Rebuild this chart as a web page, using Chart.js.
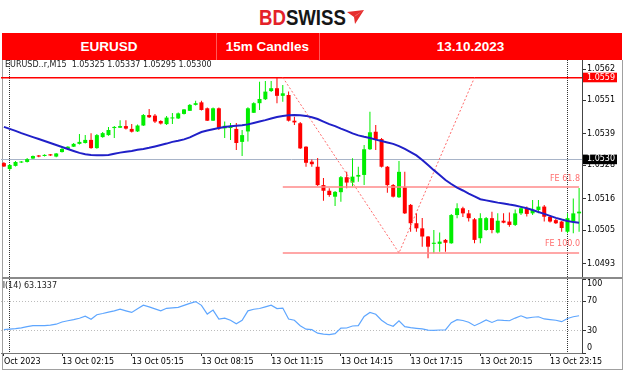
<!DOCTYPE html>
<html><head><meta charset="utf-8">
<script src="https://cdn.jsdelivr.net/npm/chart.js@4.4.1/dist/chart.umd.min.js"></script>
<style>
html,body{margin:0;padding:0;background:#fff;width:624px;height:372px;overflow:hidden;font-family:"DejaVu Sans",sans-serif;}
.abs{position:absolute;}
#logo{left:259px;top:7px;height:22px;white-space:nowrap;}
#logo .t{display:inline-block;font:bold 22px/22px "Liberation Sans",Arial,sans-serif;transform:scaleX(0.846);transform-origin:0 0;}
#bar{left:2px;top:33px;width:620px;height:27px;background:#ff0000;}
#bar .c{position:absolute;top:0;height:27px;line-height:27px;text-align:center;color:#fff;font:bold 13.5px/27px "Liberation Sans",Arial,sans-serif;}
#bar .d{position:absolute;top:0;width:1px;height:27px;background:rgba(255,255,255,0.35);}
#frame{left:2px;top:60px;width:619px;height:309px;border-left:1px solid #a0a0a0;border-right:1px solid #a0a0a0;border-bottom:1px solid #a0a0a0;}
canvas{position:absolute;}
.lbl{font-size:8px;line-height:11px;white-space:nowrap;}
</style></head>
<body>
<div id="logo" class="abs"><span class="t"><span style="color:#e42229">BD</span><span style="color:#161616">SWISS</span></span></div>
<svg class="abs" style="left:347px;top:10px" width="18" height="16" viewBox="0 0 18 16"><polygon points="0,2 17,0 8,14 7,7" fill="#e62d2d"/><polygon points="7,7 17,0 9,5" fill="#ffffff" opacity="0.5"/></svg>
<div id="bar" class="abs">
  <div class="c" style="left:0;width:214px">EURUSD</div>
  <div class="d" style="left:214px"></div>
  <div class="c" style="left:214px;width:103px">15m Candles</div>
  <div class="d" style="left:317px"></div>
  <div class="c" style="left:317px;width:303px">13.10.2023</div>
</div>
<div id="frame" class="abs"></div>
<canvas id="main" width="621" height="217" style="left:1px;top:60px"></canvas>
<canvas id="rsi" width="621" height="91" style="left:1px;top:279px"></canvas>
<div class="abs" style="left:2px;top:277px;width:620px;height:2px;background:#8a8a8a"></div>
<div class="abs lbl" style="left:5px;top:59px;color:#222">EURUSD..r,M15&nbsp; 1.05325 1.05337 1.05295 1.05300</div>
<div class="abs lbl" style="left:3px;top:280px;width:120px;height:11px;overflow:hidden;color:#222"><span style="margin-left:-11px">RSI(14) 63.1337</span></div>
<div class="abs lbl" style="left:500px;top:173px;width:80px;text-align:right;color:#ff6e6e">FE 61.8</div>
<div class="abs lbl" style="left:500px;top:238px;width:80px;text-align:right;color:#ff6e6e">FE 100.0</div>
<script>
const timeLabels = ["12.10 23:45",
"00:00","00:15","00:30","00:45","01:00","01:15","01:30","01:45","02:00","02:15","02:30","02:45",
"03:00","03:15","03:30","03:45","04:00","04:15","04:30","04:45","05:00","05:15","05:30","05:45",
"06:00","06:15","06:30","06:45","07:00","07:15","07:30","07:45","08:00","08:15","08:30","08:45",
"09:00","09:15","09:30","09:45","10:00","10:15","10:30","10:45","11:00","11:15","11:30","11:45",
"12:00","12:15","12:30","12:45","13:00","13:15","13:30","13:45","14:00","14:15","14:30","14:45",
"15:00","15:15","15:30","15:45","16:00","16:15","16:30","16:45","17:00","17:15","17:30","17:45",
"18:00","18:15","18:30","18:45","19:00","19:15","19:30","19:45","20:00","20:15","20:30","20:45",
"21:00","21:15","21:30","21:45","22:00","22:15","22:30","22:45","23:00","23:15","23:30","23:45",
"14.10 00:00","14.10 00:15","14.10 00:30"];

const open = [1.05287,1.05266,1.05277,1.05289,1.05291,1.05303,1.05314,1.05312,1.05318,1.05310,
1.05326,1.05337,1.05345,1.05355,1.05358,1.05369,1.05340,1.05379,1.05386,1.05411,
1.05412,1.05418,1.05408,1.05399,1.05420,1.05457,1.05455,1.05436,1.05425,1.05445,
1.05445,1.05461,1.05472,1.05493,1.05502,1.05481,1.05437,1.05481,1.05410,1.05411,
1.05408,1.05362,1.05399,1.05465,1.05499,1.05513,1.05542,1.05552,1.05525,1.05528,
1.05437,1.05428,1.05345,1.05292,1.05274,1.05209,1.05189,1.05168,1.05184,1.05237,
1.05218,1.05239,1.05245,1.05336,1.05398,1.05372,1.05274,1.05209,1.05166,1.05201,
1.05139,1.05074,1.05056,1.05027,1.05001,1.05001,1.05015,1.05003,1.05103,1.05127,
1.05109,1.05088,1.05021,1.05050,1.05092,1.05041,1.05083,1.05080,1.05068,1.05109,
1.05127,1.05109,1.05121,1.05133,1.05097,1.05085,1.05080,1.05044,1.05080,1.05109];

const high = [1.05291,1.05284,1.05294,1.05294,1.05305,1.05314,1.05316,1.05318,1.05319,1.05323,
1.05340,1.05347,1.05358,1.05390,1.05386,1.05393,1.05390,1.05397,1.05415,1.05418,
1.05439,1.05439,1.05425,1.05424,1.05461,1.05478,1.05461,1.05439,1.05454,1.05464,
1.05466,1.05478,1.05496,1.05508,1.05508,1.05484,1.05484,1.05484,1.05434,1.05429,
1.05429,1.05404,1.05485,1.05502,1.05575,1.05578,1.05578,1.05588,1.05563,1.05540,
1.05451,1.05432,1.05347,1.05300,1.05305,1.05234,1.05198,1.05188,1.05241,1.05256,
1.05304,1.05274,1.05351,1.05469,1.05422,1.05376,1.05277,1.05213,1.05294,1.05256,
1.05142,1.05109,1.05093,1.05029,1.05050,1.05041,1.05018,1.05107,1.05145,1.05132,
1.05121,1.05093,1.05109,1.05096,1.05115,1.05109,1.05109,1.05112,1.05123,1.05133,
1.05133,1.05156,1.05156,1.05139,1.05103,1.05089,1.05082,1.05109,1.05162,1.05199];

const low = [1.05273,1.05262,1.05275,1.05287,1.05289,1.05301,1.05308,1.05310,1.05312,1.05308,
1.05324,1.05335,1.05344,1.05353,1.05356,1.05338,1.05338,1.05377,1.05384,1.05376,
1.05411,1.05406,1.05395,1.05397,1.05418,1.05447,1.05429,1.05424,1.05422,1.05425,
1.05443,1.05459,1.05471,1.05491,1.05473,1.05436,1.05436,1.05404,1.05376,1.05369,
1.05333,1.05312,1.05363,1.05464,1.05475,1.05510,1.05539,1.05499,1.05504,1.05434,
1.05422,1.05337,1.05274,1.05274,1.05206,1.05154,1.05168,1.05135,1.05150,1.05198,
1.05204,1.05221,1.05209,1.05333,1.05333,1.05271,1.05182,1.05165,1.05163,1.05107,
1.05044,1.05044,1.04991,1.04950,1.04968,1.04973,1.04973,1.05001,1.05092,1.05096,
1.05080,1.05003,1.05003,1.05047,1.05039,1.05038,1.05074,1.05062,1.05064,1.05103,
1.05098,1.05103,1.05109,1.05080,1.05077,1.05071,1.05044,1.05039,1.05039,1.05044];

const close = [1.05275,1.05280,1.05291,1.05292,1.05301,1.05312,1.05310,1.05316,1.05314,1.05321,
1.05337,1.05345,1.05355,1.05362,1.05369,1.05340,1.05386,1.05393,1.05404,1.05415,
1.05418,1.05409,1.05398,1.05420,1.05457,1.05449,1.05434,1.05427,1.05448,1.05448,
1.05463,1.05477,1.05493,1.05499,1.05475,1.05437,1.05481,1.05410,1.05419,1.05418,
1.05358,1.05386,1.05481,1.05499,1.05514,1.05540,1.05552,1.05525,1.05534,1.05437,
1.05431,1.05339,1.05288,1.05283,1.05209,1.05189,1.05174,1.05185,1.05237,1.05218,
1.05239,1.05245,1.05336,1.05396,1.05372,1.05274,1.05209,1.05168,1.05256,1.05109,
1.05074,1.05056,1.05027,1.04991,1.05005,1.05009,1.05005,1.05103,1.05127,1.05109,
1.05092,1.05015,1.05092,1.05092,1.05050,1.05083,1.05076,1.05068,1.05109,1.05127,
1.05107,1.05121,1.05133,1.05097,1.05080,1.05074,1.05057,1.05092,1.05109,1.05115];

const ma = [1.05415,1.05408,1.05401,1.05393,1.05386,1.05379,1.05372,1.05365,1.05358,1.05351,
1.05344,1.05337,1.05330,1.05323,1.05318,1.05316,1.05315,1.05315,1.05316,1.05320,
1.05324,1.05327,1.05330,1.05334,1.05337,1.05341,1.05346,1.05351,1.05356,1.05362,
1.05366,1.05371,1.05378,1.05388,1.05397,1.05402,1.05407,1.05411,1.05415,1.05417,
1.05419,1.05421,1.05424,1.05429,1.05434,1.05439,1.05445,1.05450,1.05454,1.05456,
1.05457,1.05456,1.05454,1.05449,1.05443,1.05434,1.05425,1.05418,1.05409,1.05401,
1.05392,1.05385,1.05380,1.05376,1.05370,1.05365,1.05360,1.05355,1.05347,1.05337,
1.05326,1.05314,1.05298,1.05280,1.05262,1.05245,1.05227,1.05213,1.05200,1.05190,
1.05179,1.05169,1.05159,1.05155,1.05151,1.05147,1.05144,1.05140,1.05137,1.05132,
1.05127,1.05121,1.05114,1.05107,1.05100,1.05093,1.05087,1.05082,1.05078,1.05076];

const rsi = [31.5,32.2,32.9,34,35.6,36.9,36.9,36.9,37.6,38.9,
41.9,43.6,45,47,49.7,45.6,51.7,53.4,55.3,57,
59.3,57,54.8,59.7,64.7,62.4,59.7,57,60.4,61.1,
61.7,64.4,67.1,69.5,64.4,52.6,58,45.9,47,44.3,
39.6,44.3,57,59.1,60.1,62.4,64.7,60.1,60.7,45.9,
44.3,36.9,32.2,31.5,26.8,25.5,24.8,26.2,33.6,33.8,
36.5,36.9,49.4,54.8,52.3,44.3,38.9,36.2,43.6,35.6,
34.2,33.3,32.5,30.9,30.5,31.1,31.1,40.9,45,43.9,
41.6,36.9,40.5,44.6,41.3,44.6,44,43.6,47.2,50.3,
47.2,48.3,49,46,45.2,44.3,42.3,46.7,49,50.3];

const xTickIndex = [0,10,22,34,46,58,70,82,94];
const xTickText = ["Oct 2023","13 Oct 02:15","13 Oct 05:15","13 Oct 08:15","13 Oct 11:15","13 Oct 14:15","13 Oct 17:15","13 Oct 20:15","13 Oct 23:15"];
const separatorIndex = [1,97];
const priceTicks = [1.0493,1.0505,1.0516,1.0528,1.0539,1.0551,1.0562];
const resistanceLevel = 1.0559;
const bidLevel = 1.0530;
const priceMin = 1.048837, priceMax = 1.056519;
const feIndex = [48,68,81];
const fePrice = [1.0559,1.04969,1.0559];
const feStart = 48;
const fe618 = 1.05202, fe100 = 1.04969;
const rsiTicks = [0,30,70,100];
const rsiLevels = [30,70];

const FONT = {family:"DejaVu Sans", size:8};
const bodyColor = close.map((c,i)=> c >= open[i] ? '#00ee00' : '#ff0000');
const bodies = open.map((o,i)=>[o, close[i]]);
const wicks = low.map((l,i)=>[l, high[i]]);
const feDotted = timeLabels.map((_,i)=>{const j=feIndex.indexOf(i); return j>=0 ? fePrice[j] : null;});
const fe618Line = timeLabels.map((_,i)=> i>=feStart ? fe618 : null);
const fe100Line = timeLabels.map((_,i)=> i>=feStart ? fe100 : null);
const tv = c => (c && c.tick) ? c.tick.value : undefined;

new Chart(document.getElementById('main'), {
  type:'bar',
  data:{labels: timeLabels, datasets:[
    {type:'line', data: ma, borderColor:'#2020c8', borderWidth:2, pointRadius:0, order:0},
    {type:'line', data: feDotted, spanGaps:true, borderColor:'#ff6a6a', borderWidth:1, borderDash:[2,2], pointRadius:0, order:1},
    {type:'line', data: fe618Line, borderColor:'#ff8a8a', borderWidth:1.5, pointRadius:0, order:2},
    {type:'line', data: fe100Line, borderColor:'#ff8a8a', borderWidth:1.5, pointRadius:0, order:2},
    {type:'bar', data: bodies, backgroundColor: bodyColor, barThickness:4, grouped:false, inflateAmount:0, borderWidth:0, minBarLength:1, order:3},
    {type:'bar', data: wicks, backgroundColor: bodyColor, barThickness:1, grouped:false, inflateAmount:0, borderWidth:0, order:4}
  ]},
  options:{
    responsive:false, animation:false, events:[],
    layout:{padding:0},
    plugins:{legend:{display:false}, tooltip:{enabled:false}},
    scales:{
      x:{offset:true,
        grid:{offset:false, drawTicks:false, color: c => separatorIndex.includes(c.index) ? '#333' : 'transparent'},
        border:{display:false, dash:[1,1]},
        ticks:{display:false},
        afterFit: s => { s.height = 0; s.paddingLeft = 0; s.paddingRight = 0; }
      },
      y:{position:'right', min: priceMin, max: priceMax,
        afterBuildTicks: s => { s.ticks = priceTicks.concat([bidLevel, resistanceLevel]).map(v => ({value:v})); },
        afterFit: s => { s.width = 40; s.paddingTop = 0; s.paddingBottom = 0; },
        grid:{
          color: c => tv(c) === resistanceLevel ? '#ff0000' : (tv(c) === bidLevel ? '#a8b4c8' : 'transparent'),
          lineWidth: c => tv(c) === resistanceLevel ? 1.5 : 1,
          tickLength:4, tickWidth:1,
          tickColor: c => tv(c) === resistanceLevel ? '#ff0000' : '#333'
        },
        border:{display:true, color:'#444', width:1},
        ticks:{autoSkip:false, padding:1, font:FONT,
          color: c => (tv(c) === resistanceLevel || tv(c) === bidLevel) ? '#ffffff' : '#000000',
          showLabelBackdrop: c => (tv(c) === resistanceLevel || tv(c) === bidLevel),
          backdropColor: c => tv(c) === resistanceLevel ? '#ff0000' : '#000000',
          backdropPadding:{left:4, right:2, top:0, bottom:0},
          callback: v => Number(v).toFixed(4)
        }
      }
    }
  }
});

new Chart(document.getElementById('rsi'), {
  type:'line',
  data:{labels: timeLabels, datasets:[
    {data: rsi, borderColor:'#5ea6ff', borderWidth:1.2, pointRadius:0, tension:0}
  ]},
  options:{
    responsive:false, animation:false, events:[],
    layout:{padding:0},
    plugins:{legend:{display:false}, tooltip:{enabled:false}},
    scales:{
      x:{offset:true,
        grid:{offset:false, drawTicks:true, tickLength:3, tickWidth:1,
          color: c => separatorIndex.includes(c.index) ? '#333' : 'transparent',
          tickColor: c => xTickIndex.includes(c.index) ? '#333' : 'transparent'},
        border:{display:true, color:'#777', width:1, dash:[1,1]},
        ticks:{autoSkip:false, maxRotation:0, minRotation:0, align:'start', padding:1, font:FONT, color:'#000',
          callback: (v,i) => { const j = xTickIndex.indexOf(i); return j >= 0 ? xTickText[j] : ''; }},
        afterFit: s => { s.height = 17; s.paddingLeft = 0; s.paddingRight = 0; }
      },
      y:{position:'right', min:0, max:100,
        afterBuildTicks: s => { s.ticks = rsiTicks.map(v => ({value:v})); },
        afterFit: s => { s.width = 40; s.paddingTop = 0; s.paddingBottom = 0; },
        grid:{color: c => rsiLevels.includes(tv(c)) ? '#bcbcbc' : 'transparent', tickLength:4, tickWidth:1, tickColor:'#333'},
        border:{display:true, color:'#444', width:1, dash:[1,2]},
        ticks:{autoSkip:false, padding:1, font:FONT, color:'#000',
          callback: v => v === 100 ? ['', '100'] : (v === 0 ? ['0', ''] : String(v))}
      }
    }
  }
});
</script>
</body></html>
